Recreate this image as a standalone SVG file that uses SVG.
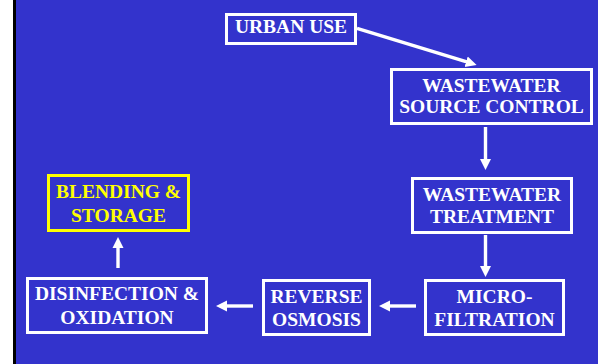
<svg xmlns="http://www.w3.org/2000/svg" width="598" height="364" viewBox="0 0 598 364">
<defs>
<style>
.box{fill:none;stroke:#ffffff;stroke-width:3}
.ybox{fill:none;stroke:#ffff00;stroke-width:3}
.t{font-family:"Liberation Serif","Times New Roman",serif;font-weight:bold;font-size:19.5px;fill:#ffffff;text-anchor:middle}
.yt{fill:#ffff00}
.arr{stroke:#ffffff;stroke-width:3.4;fill:none;marker-end:url(#ah)}
</style>
<marker id="ah" markerUnits="userSpaceOnUse" markerWidth="12" markerHeight="12" refX="5" refY="6" orient="auto">
<path d="M0,0.5 L11,6 L0,11.5 z" fill="#ffffff"/>
</marker>
</defs>
<rect x="0" y="0" width="598" height="364" fill="#ffffff"/>
<rect x="13" y="0" width="4" height="364" fill="#000000"/>
<rect x="16" y="0" width="582" height="364" fill="#3333cc"/>
<g id="connectors">
<line class="arr" x1="357" y1="28.3" x2="470.9" y2="63.2"/>
<line class="arr" x1="485.5" y1="127" x2="485.5" y2="164"/>
<line class="arr" x1="485.5" y1="235" x2="485.5" y2="271"/>
<line class="arr" x1="416" y1="306" x2="385" y2="306"/>
<line class="arr" x1="253" y1="306" x2="222" y2="306"/>
<line class="arr" x1="118" y1="268" x2="118" y2="243"/>
</g>
<g id="urban-use">
<rect class="box" x="226.5" y="14.5" width="129" height="29"/>
<text class="t" x="291" y="33.3">URBAN USE</text>
</g>
<g id="source-control">
<rect class="box" x="391.5" y="69.5" width="200" height="54"/>
<text class="t" x="491.5" y="91.7">WASTEWATER</text>
<text class="t" x="491.5" y="113.3">SOURCE CONTROL</text>
</g>
<g id="treatment">
<rect class="box" x="412.5" y="178.5" width="159" height="54"/>
<text class="t" x="492" y="200.7">WASTEWATER</text>
<text class="t" x="492" y="223.3">TREATMENT</text>
</g>
<g id="microfiltration">
<rect class="box" x="425.5" y="280.5" width="138" height="54"/>
<text class="t" x="494.5" y="302.7">MICRO-</text>
<text class="t" x="494.5" y="326">FILTRATION</text>
</g>
<g id="reverse-osmosis">
<rect class="box" x="263.5" y="280.5" width="106" height="54"/>
<text class="t" x="316.5" y="302.7">REVERSE</text>
<text class="t" x="316.5" y="326">OSMOSIS</text>
</g>
<g id="disinfection">
<rect class="box" x="27.5" y="278.5" width="179" height="54"/>
<text class="t" x="117" y="300">DISINFECTION &amp;</text>
<text class="t" x="117" y="324">OXIDATION</text>
</g>
<g id="blending">
<rect class="ybox" x="48.5" y="175.5" width="140" height="55"/>
<text class="t yt" x="118.5" y="198.3">BLENDING &amp;</text>
<text class="t yt" x="118.5" y="221.7">STORAGE</text>
</g>
</svg>
